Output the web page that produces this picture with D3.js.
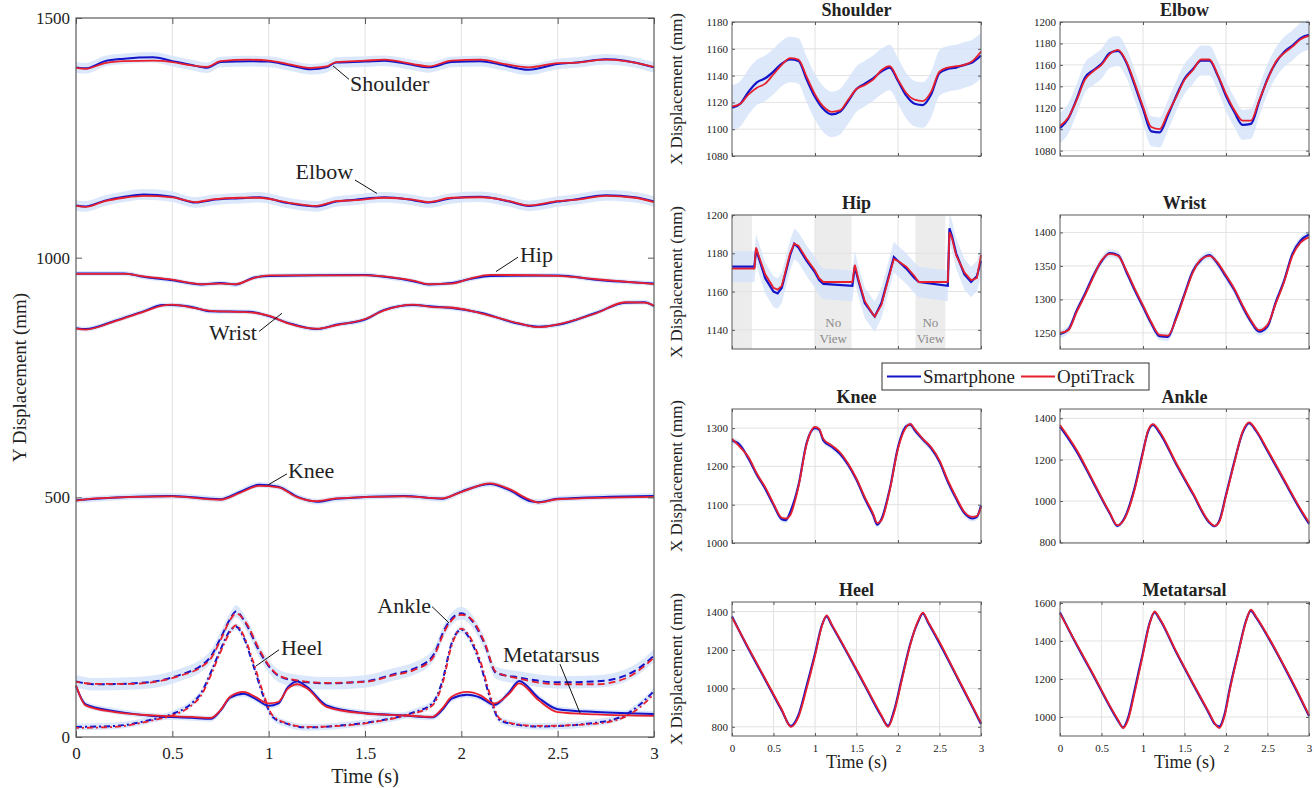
<!DOCTYPE html>
<html>
<head>
<meta charset="utf-8">
<script src="https://cdn.jsdelivr.net/npm/d3@7"></script>
<style>
  body { margin: 0; background: #fff; }
  svg { display: block; }
  text { font-family: "Liberation Serif", "Times New Roman", serif; fill: #222; }
</style>
</head>
<body>
<script>
// ---------- shared ticks ----------
const timeTicks = [0, 0.5, 1, 1.5, 2, 2.5, 3];
const leftYTicks = [0, 500, 1000, 1500];
const t10 = [0, 0.1, 0.2, 0.3, 0.4, 0.5, 0.6, 0.7, 0.8, 0.9, 1, 1.1, 1.2, 1.3, 1.4, 1.5, 1.6, 1.7, 1.8, 1.9, 2, 2.1, 2.2, 2.3, 2.4, 2.5, 2.6, 2.7, 2.8, 2.9, 3];

// ---------- left panel: Y displacement ----------
const yShoulderT = [0, 0.05, 0.15, 0.25, 0.4, 0.5, 0.6, 0.68, 0.75, 0.9, 1, 1.1, 1.22, 1.3, 1.35, 1.5, 1.6, 1.75, 1.83, 1.95, 2.1, 2.2, 2.35, 2.5, 2.6, 2.75, 2.85, 3];
const yShoulderOpti = [1396, 1394, 1406, 1410, 1411, 1408, 1401, 1398, 1410, 1413, 1411, 1404, 1396, 1399, 1408, 1411, 1413, 1404, 1399, 1411, 1413, 1406, 1397, 1406, 1407, 1413, 1410, 1398];
const yShoulderPhone = [1397, 1395, 1410, 1415, 1418, 1410, 1402, 1396, 1408, 1410, 1409, 1402, 1393, 1397, 1407, 1409, 1411, 1402, 1397, 1408, 1410, 1403, 1392, 1404, 1407, 1414, 1411, 1397];

const yElbowT = [0, 0.05, 0.15, 0.25, 0.35, 0.5, 0.62, 0.7, 0.85, 0.95, 1.1, 1.25, 1.35, 1.45, 1.6, 1.75, 1.83, 1.95, 2.1, 2.25, 2.35, 2.5, 2.6, 2.75, 2.9, 3];
const yElbowOpti = [1108, 1106, 1118, 1125, 1129, 1126, 1116, 1121, 1125, 1125, 1115, 1108, 1118, 1120, 1125, 1121, 1116, 1125, 1126, 1118, 1109, 1118, 1121, 1129, 1125, 1116];
const yElbowPhone = [1109, 1107, 1119, 1127, 1132, 1127, 1115, 1120, 1124, 1126, 1114, 1107, 1117, 1121, 1126, 1120, 1115, 1124, 1127, 1117, 1108, 1117, 1122, 1130, 1126, 1117];

const yHipT = [0, 0.25, 0.35, 0.5, 0.65, 0.75, 0.83, 0.92, 1, 1.5, 1.6, 1.75, 1.83, 1.95, 2.05, 2.15, 2.5, 2.7, 3];
const yHipOpti = [966, 966, 961, 954, 945, 946, 945, 957, 963, 963, 961, 952, 945, 946, 957, 964, 962, 955, 945];
const yHipPhone = [967, 967, 960, 953, 944, 947, 944, 958, 962, 964, 960, 951, 944, 947, 956, 962, 963, 954, 946];

const yWristT = [0, 0.05, 0.2, 0.35, 0.45, 0.5, 0.6, 0.7, 0.9, 1, 1.1, 1.25, 1.35, 1.5, 1.6, 1.75, 1.85, 1.95, 2.1, 2.3, 2.4, 2.5, 2.7, 2.85, 2.95, 3];
const yWristOpti = [852, 850, 867, 887, 900, 902, 896, 889, 886, 879, 863, 852, 859, 872, 890, 902, 897, 896, 884, 863, 855, 861, 884, 907, 906, 900];
const yWristPhone = [853, 851, 868, 888, 901, 901, 897, 888, 887, 878, 864, 851, 860, 871, 891, 901, 898, 895, 885, 862, 856, 860, 885, 906, 907, 899];

const yKneeT = [0, 0.1, 0.5, 0.75, 0.85, 0.95, 1.05, 1.15, 1.25, 1.35, 1.7, 1.9, 2, 2.15, 2.25, 2.35, 2.4, 2.5, 3];
const yKneeOpti = [493, 498, 502, 495, 509, 524, 521, 500, 492, 498, 502, 498, 511, 529, 517, 496, 489, 496, 501];
const yKneePhone = [494, 497, 503, 496, 511, 526, 522, 501, 491, 497, 503, 497, 512, 528, 515, 493, 490, 497, 503];

const yAnkleT = [0, 0.1, 0.3, 0.45, 0.55, 0.65, 0.7, 0.75, 0.8, 0.83, 0.88, 0.95, 1, 1.05, 1.15, 1.3, 1.5, 1.65, 1.75, 1.85, 1.92, 1.97, 2, 2.05, 2.12, 2.18, 2.3, 2.5, 2.7, 2.85, 2.95, 3];
const yAnkleOpti = [115, 111, 111, 118, 129, 146, 164, 202, 244, 258, 240, 184, 150, 129, 118, 113, 115, 129, 139, 164, 226, 251, 255, 247, 198, 136, 122, 110, 110, 122, 148, 166];
const yAnklePhone = [116, 110, 112, 119, 131, 149, 168, 206, 246, 262, 238, 180, 148, 128, 117, 112, 116, 131, 142, 168, 230, 254, 258, 245, 195, 134, 124, 114, 116, 128, 152, 170];

const yHeelT = [0, 0.2, 0.4, 0.5, 0.6, 0.65, 0.7, 0.75, 0.8, 0.83, 0.87, 0.92, 0.97, 1.02, 1.1, 1.2, 1.4, 1.6, 1.75, 1.85, 1.9, 1.95, 2, 2.05, 2.1, 2.15, 2.2, 2.3, 2.4, 2.7, 2.85, 2.95, 3];
const yHeelOpti = [19, 21, 35, 45, 66, 87, 129, 177, 219, 233, 212, 157, 94, 45, 28, 21, 24, 35, 49, 66, 108, 191, 226, 205, 157, 87, 38, 26, 23, 28, 42, 70, 90];
const yHeelPhone = [21, 23, 37, 48, 70, 92, 135, 182, 222, 230, 208, 150, 88, 42, 27, 20, 25, 36, 51, 70, 115, 196, 224, 200, 150, 80, 35, 25, 22, 30, 46, 76, 96];

const yMetaT = [0, 0.05, 0.2, 0.4, 0.6, 0.7, 0.75, 0.8, 0.87, 0.93, 1, 1.05, 1.1, 1.15, 1.2, 1.3, 1.5, 1.7, 1.85, 1.9, 1.95, 2.03, 2.1, 2.17, 2.25, 2.3, 2.4, 2.5, 2.7, 3];
const yMetaOpti = [108, 66, 52, 45, 42, 40, 56, 84, 94, 84, 70, 73, 101, 110, 101, 63, 49, 45, 42, 59, 84, 94, 87, 70, 91, 112, 77, 52, 47, 44];
const yMetaPhone = [106, 68, 54, 44, 40, 38, 55, 82, 90, 80, 65, 70, 104, 116, 104, 66, 50, 45, 41, 56, 80, 88, 82, 67, 94, 117, 82, 58, 52, 48];

// ---------- right panels: X displacement ----------
const xShoulderPhone = [1116, 1119, 1128, 1135, 1138, 1143, 1149, 1152, 1151, 1137, 1124, 1115, 1111, 1113, 1121, 1130, 1134, 1138, 1143, 1146, 1136, 1125, 1119, 1118, 1126, 1142, 1145, 1146, 1148, 1150, 1155];
const xShoulderOpti = [1117, 1119, 1126, 1131, 1134, 1141, 1148, 1153, 1152, 1139, 1126, 1117, 1113, 1114, 1122, 1130, 1133, 1137, 1144, 1147, 1137, 1127, 1122, 1121, 1128, 1143, 1146, 1147, 1148, 1151, 1158];

const xElbowPhone = [1101, 1110, 1128, 1148, 1155, 1161, 1171, 1173, 1162, 1141, 1119, 1098, 1097, 1113, 1131, 1147, 1156, 1164, 1164, 1150, 1131, 1116, 1104, 1105, 1126, 1147, 1162, 1172, 1178, 1185, 1188];
const xElbowOpti = [1103, 1111, 1127, 1146, 1154, 1160, 1170, 1174, 1163, 1143, 1121, 1102, 1100, 1115, 1130, 1146, 1155, 1165, 1165, 1151, 1133, 1118, 1108, 1108, 1127, 1146, 1163, 1171, 1177, 1184, 1187];

const xHipT = [0, 0.27, 0.29, 0.32, 0.4, 0.5, 0.55, 0.6, 0.7, 0.75, 0.8, 0.9, 1, 1.05, 1.1, 1.45, 1.48, 1.52, 1.6, 1.7, 1.72, 1.8, 1.9, 1.95, 2, 2.1, 2.2, 2.25, 2.6, 2.62, 2.65, 2.7, 2.8, 2.88, 2.95, 3];
const xHipPhone = [1173, 1173, 1182, 1178, 1167, 1160, 1159, 1162, 1179, 1185, 1183, 1176, 1170, 1166, 1164, 1163, 1173, 1166, 1154, 1148, 1147, 1154, 1170, 1178, 1176, 1172, 1167, 1165, 1163, 1193, 1189, 1180, 1169, 1165, 1168, 1176];
const xHipOpti = [1172, 1172, 1183, 1179, 1169, 1162, 1161, 1163, 1180, 1185, 1184, 1177, 1171, 1167, 1165, 1165, 1174, 1167, 1155, 1148, 1147, 1153, 1169, 1177, 1176, 1173, 1168, 1165, 1165, 1191, 1188, 1179, 1170, 1166, 1167, 1179];
const hipNoView = [[0, 0.24], [1.0, 1.44], [2.21, 2.57]];

const xWristPhone = [1248, 1255, 1283, 1308, 1335, 1357, 1369, 1366, 1341, 1314, 1289, 1264, 1245, 1244, 1273, 1308, 1342, 1359, 1366, 1353, 1334, 1314, 1289, 1267, 1252, 1260, 1296, 1328, 1368, 1388, 1397];
const xWristOpti = [1250, 1254, 1281, 1306, 1333, 1358, 1368, 1365, 1343, 1316, 1291, 1266, 1247, 1246, 1271, 1306, 1340, 1360, 1365, 1355, 1336, 1316, 1291, 1269, 1254, 1262, 1294, 1326, 1365, 1385, 1393];

const xKneeT = [0, 0.1, 0.2, 0.3, 0.4, 0.5, 0.6, 0.65, 0.7, 0.8, 0.9, 1, 1.05, 1.1, 1.2, 1.3, 1.4, 1.5, 1.6, 1.7, 1.75, 1.8, 1.9, 2, 2.1, 2.15, 2.2, 2.3, 2.4, 2.5, 2.6, 2.7, 2.8, 2.9, 2.95, 3];
const xKneePhone = [1268, 1255, 1220, 1178, 1142, 1100, 1062, 1060, 1080, 1150, 1262, 1300, 1296, 1268, 1252, 1233, 1204, 1165, 1116, 1073, 1048, 1062, 1140, 1250, 1305, 1309, 1295, 1270, 1247, 1212, 1160, 1116, 1078, 1064, 1068, 1098];
const xKneeOpti = [1272, 1250, 1224, 1181, 1146, 1103, 1066, 1064, 1072, 1146, 1259, 1303, 1298, 1272, 1255, 1237, 1207, 1168, 1120, 1077, 1052, 1059, 1137, 1246, 1303, 1311, 1298, 1272, 1250, 1216, 1164, 1120, 1081, 1068, 1070, 1094];

const xAnkleT = [0, 0.2, 0.4, 0.6, 0.69, 0.78, 0.9, 1, 1.06, 1.12, 1.2, 1.4, 1.6, 1.8, 1.86, 1.92, 2, 2.1, 2.2, 2.28, 2.36, 2.5, 2.7, 2.9, 3];
const xAnklePhone = [1360, 1240, 1090, 940, 880, 920, 1065, 1240, 1335, 1368, 1330, 1178, 1035, 895, 878, 905, 1030, 1190, 1330, 1376, 1340, 1242, 1098, 955, 890];
const xAnkleOpti = [1368, 1248, 1096, 944, 883, 915, 1056, 1232, 1340, 1372, 1336, 1184, 1040, 899, 880, 900, 1024, 1184, 1336, 1380, 1345, 1248, 1104, 960, 896];

const xHeelT = [0, 0.2, 0.4, 0.6, 0.71, 0.8, 0.9, 1, 1.08, 1.14, 1.2, 1.4, 1.6, 1.8, 1.88, 1.95, 2.05, 2.15, 2.24, 2.3, 2.36, 2.5, 2.7, 2.9, 3];
const xHeelPhone = [1375, 1205, 1045, 885, 803, 860, 1015, 1180, 1325, 1375, 1330, 1175, 1015, 855, 805, 880, 1060, 1235, 1345, 1390, 1345, 1235, 1068, 900, 815];
const xHeelOpti = [1370, 1210, 1050, 890, 800, 850, 1000, 1170, 1320, 1380, 1335, 1180, 1020, 860, 800, 870, 1050, 1230, 1350, 1395, 1350, 1242, 1073, 905, 820];

const xMetaT = [0, 0.2, 0.4, 0.6, 0.7, 0.76, 0.82, 0.9, 1, 1.08, 1.14, 1.2, 1.4, 1.6, 1.8, 1.86, 1.92, 1.98, 2.05, 2.15, 2.24, 2.3, 2.36, 2.5, 2.7, 2.9, 3];
const xMetaPhone = [1550, 1380, 1220, 1055, 980, 945, 995, 1145, 1340, 1495, 1550, 1515, 1340, 1175, 1015, 965, 950, 1010, 1160, 1345, 1505, 1560, 1525, 1425, 1265, 1095, 1005];
const xMetaOpti = [1545, 1385, 1225, 1060, 985, 942, 985, 1130, 1330, 1490, 1555, 1520, 1345, 1180, 1020, 970, 942, 1000, 1150, 1340, 1500, 1565, 1530, 1430, 1270, 1100, 1010];

// ---------- look ----------
const BLUE = '#1414c8';
const RED = '#e8202e';
const BAND = '#d5e3fa';
const FRAME = '#5a5a5a';
const GRID = '#e2e2e2';
const SERIF = '"Liberation Serif", "Times New Roman", serif';
const fmt = d => String(d);

const svg = d3.select('body').append('svg')
  .attr('width', 1314)
  .attr('height', 788);

// ================= left panel =================
const L = { left: 76, right: 654, top: 18, bottom: 737 };
const lx = d3.scaleLinear().domain([0, 3]).range([L.left, L.right]);
const ly = d3.scaleLinear().domain([0, 1500]).range([L.bottom, L.top]);

const leftSeries = [
  { t: yShoulderT, phone: yShoulderPhone, opti: yShoulderOpti, sd: 11, dash: null },
  { t: yElbowT, phone: yElbowPhone, opti: yElbowOpti, sd: 11, dash: null },
  { t: yHipT, phone: yHipPhone, opti: yHipOpti, sd: 5, dash: null },
  { t: yWristT, phone: yWristPhone, opti: yWristOpti, sd: 5, dash: null },
  { t: yKneeT, phone: yKneePhone, opti: yKneeOpti, sd: 6, dash: null },
  { t: yAnkleT, phone: yAnklePhone, opti: yAnkleOpti, sd: 13, dash: '7,4' },
  { t: yHeelT, phone: yHeelPhone, opti: yHeelOpti, sd: 7, dash: '6,3,2,3' },
  { t: yMetaT, phone: yMetaPhone, opti: yMetaOpti, sd: 6, dash: null },
];

const lg = svg.append('g');

// vertical grid
lg.selectAll('.vgrid')
  .data(timeTicks.slice(1, -1))
  .enter().append('line')
  .attr('x1', d => lx(d)).attr('x2', d => lx(d))
  .attr('y1', L.top).attr('y2', L.bottom)
  .attr('stroke', GRID).attr('stroke-width', 1);

// bands first, then blue, then red
leftSeries.forEach(s => {
  const band = d3.area()
    .x((d, i) => lx(s.t[i]))
    .y0(d => ly(d - s.sd))
    .y1(d => ly(d + s.sd))
    .curve(d3.curveMonotoneX);
  lg.append('path').datum(s.phone)
    .attr('d', band).attr('fill', BAND).attr('opacity', 0.85);
});
leftSeries.forEach(s => {
  const line = d3.line().x((d, i) => lx(s.t[i])).y(d => ly(d)).curve(d3.curveMonotoneX);
  lg.append('path').datum(s.phone)
    .attr('d', line).attr('fill', 'none').attr('stroke', BLUE)
    .attr('stroke-width', 2).attr('stroke-dasharray', s.dash);
});
leftSeries.forEach(s => {
  const line = d3.line().x((d, i) => lx(s.t[i])).y(d => ly(d)).curve(d3.curveMonotoneX);
  lg.append('path').datum(s.opti)
    .attr('d', line).attr('fill', 'none').attr('stroke', RED)
    .attr('stroke-width', 1.8).attr('stroke-dasharray', s.dash)
    .attr('stroke-dashoffset', s.dash ? 3 : null);
});

// axes (ticks point inward, like matlab)
const lAxisB = lg.append('g').attr('transform', `translate(0,${L.bottom})`)
  .call(d3.axisBottom(lx).tickValues(timeTicks).tickFormat(fmt).tickSize(-6).tickPadding(10));
const lAxisL = lg.append('g').attr('transform', `translate(${L.left},0)`)
  .call(d3.axisLeft(ly).tickValues(leftYTicks).tickFormat(fmt).tickSize(-6).tickPadding(6));
lg.append('g').attr('transform', `translate(0,${L.top})`)
  .call(d3.axisTop(lx).tickValues(timeTicks).tickFormat('').tickSize(-6));
lg.append('g').attr('transform', `translate(${L.right},0)`)
  .call(d3.axisRight(ly).tickValues(leftYTicks).tickFormat('').tickSize(-6));
lg.selectAll('.domain').remove();
lg.selectAll('.tick line').attr('stroke', FRAME);
[lAxisB, lAxisL].forEach(a => a.attr('font-family', SERIF).attr('font-size', 17)
  .selectAll('text').attr('fill', '#222'));

lg.append('rect')
  .attr('x', L.left).attr('y', L.top)
  .attr('width', L.right - L.left).attr('height', L.bottom - L.top)
  .attr('fill', 'none').attr('stroke', FRAME).attr('stroke-width', 1.2);

lg.append('text')
  .attr('x', (L.left + L.right) / 2).attr('y', 783)
  .attr('text-anchor', 'middle').style('font-size', '20px')
  .text('Time (s)');
lg.append('text')
  .attr('transform', `translate(26,${(L.top + L.bottom) / 2}) rotate(-90)`)
  .attr('text-anchor', 'middle').style('font-size', '19px')
  .text('Y Displacement (mm)');

// joint labels with leader lines (data coordinates)
const leftNotes = [
  { label: 'Shoulder', a: [1.334, 1400], b: [1.417, 1372], tx: 1.422, ty: 1347, anchor: 'start' },
  { label: 'Elbow', a: [1.448, 1162], b: [1.562, 1134], tx: 1.438, ty: 1164, anchor: 'end' },
  { label: 'Hip', a: [2.294, 1001], b: [2.18, 971], tx: 2.304, ty: 992, anchor: 'start' },
  { label: 'Wrist', a: [0.950, 846], b: [1.069, 884], tx: 0.939, ty: 829, anchor: 'end' },
  { label: 'Knee', a: [1.095, 549], b: [0.997, 526], tx: 1.100, ty: 541, anchor: 'start' },
  { label: 'Heel', a: [1.054, 182], b: [0.934, 148], tx: 1.064, ty: 171, anchor: 'start' },
  { label: 'Ankle', a: [1.848, 272], b: [1.936, 238], tx: 1.843, ty: 259, anchor: 'end' },
  { label: 'Metatarsus', a: [2.512, 152], b: [2.616, 50], tx: 2.216, ty: 157, anchor: 'start' },
];
leftNotes.forEach(n => {
  lg.append('line')
    .attr('x1', lx(n.a[0])).attr('y1', ly(n.a[1]))
    .attr('x2', lx(n.b[0])).attr('y2', ly(n.b[1]))
    .attr('stroke', '#111').attr('stroke-width', 1);
  lg.append('text')
    .attr('x', lx(n.tx)).attr('y', ly(n.ty))
    .attr('text-anchor', n.anchor).style('font-size', '22px')
    .text(n.label);
});

// ================= right panels =================
const colLeft = [732, 1060];
const rowTop = [22, 215, 409, 602];
const PW = 249, PH = 134;

const panels = [
  { title: 'Shoulder', col: 0, row: 0, t: t10, phone: xShoulderPhone, opti: xShoulderOpti, sd: 17, domain: [1080, 1180], ticks: [1080, 1100, 1120, 1140, 1160, 1180] },
  { title: 'Elbow', col: 1, row: 0, t: t10, phone: xElbowPhone, opti: xElbowOpti, sd: 14, domain: [1075, 1200], ticks: [1080, 1100, 1120, 1140, 1160, 1180, 1200] },
  { title: 'Hip', col: 0, row: 1, t: xHipT, phone: xHipPhone, opti: xHipOpti, sd: 8, domain: [1130, 1200], ticks: [1140, 1160, 1180, 1200], linear: true, noView: hipNoView },
  { title: 'Wrist', col: 1, row: 1, t: t10, phone: xWristPhone, opti: xWristOpti, sd: 6, domain: [1226, 1426], ticks: [1250, 1300, 1350, 1400] },
  { title: 'Knee', col: 0, row: 2, t: xKneeT, phone: xKneePhone, opti: xKneeOpti, sd: 8, domain: [1000, 1350], ticks: [1000, 1100, 1200, 1300] },
  { title: 'Ankle', col: 1, row: 2, t: xAnkleT, phone: xAnklePhone, opti: xAnkleOpti, sd: 9, domain: [797, 1445], ticks: [800, 1000, 1200, 1400] },
  { title: 'Heel', col: 0, row: 3, t: xHeelT, phone: xHeelPhone, opti: xHeelOpti, sd: 10, domain: [752, 1450], ticks: [800, 1000, 1200, 1400] },
  { title: 'Metatarsal', col: 1, row: 3, t: xMetaT, phone: xMetaPhone, opti: xMetaOpti, sd: 10, domain: [900, 1605], ticks: [1000, 1200, 1400, 1600] },
];

panels.forEach(p => {
  const left = colLeft[p.col], top = rowTop[p.row];
  const bottomRow = p.row === 3;
  const x = d3.scaleLinear().domain([0, 3]).range([left, left + PW]);
  const y = d3.scaleLinear().domain(p.domain).range([top + PH, top]);
  const g = svg.append('g');
  const xt = bottomRow ? timeTicks : [0, 1, 2, 3];

  if (p.noView) {
    g.selectAll('.nv').data(p.noView).enter().append('rect')
      .attr('x', d => x(d[0])).attr('width', d => x(d[1]) - x(d[0]))
      .attr('y', top).attr('height', PH)
      .attr('fill', '#ececec');
  }

  // grid
  g.selectAll('.hg').data(p.ticks).enter().append('line')
    .attr('x1', left).attr('x2', left + PW)
    .attr('y1', d => y(d)).attr('y2', d => y(d))
    .attr('stroke', GRID);
  g.selectAll('.vg').data(xt.filter(d => d > 0 && d < 3)).enter().append('line')
    .attr('x1', d => x(d)).attr('x2', d => x(d))
    .attr('y1', top).attr('y2', top + PH)
    .attr('stroke', GRID);

  if (p.noView) {
    p.noView.slice(1).forEach(r => {
      const cx = x((r[0] + r[1]) / 2);
      g.append('text').attr('x', cx).attr('y', top + PH - 22)
        .attr('text-anchor', 'middle').style('font-size', '13px').style('fill', '#8a8a8a')
        .text('No');
      g.append('text').attr('x', cx).attr('y', top + PH - 6)
        .attr('text-anchor', 'middle').style('font-size', '13px').style('fill', '#8a8a8a')
        .text('View');
    });
  }

  const curve = p.linear ? d3.curveLinear : d3.curveMonotoneX;
  const band = d3.area()
    .x((d, i) => x(p.t[i]))
    .y0(d => y(d - p.sd)).y1(d => y(d + p.sd))
    .curve(curve);
  g.append('path').datum(p.phone).attr('d', band).attr('fill', BAND).attr('opacity', 0.8);

  const line = d3.line().x((d, i) => x(p.t[i])).y(d => y(d)).curve(curve);
  g.append('path').datum(p.phone).attr('d', line)
    .attr('fill', 'none').attr('stroke', BLUE).attr('stroke-width', 2.2);
  g.append('path').datum(p.opti).attr('d', line)
    .attr('fill', 'none').attr('stroke', RED).attr('stroke-width', 1.8);

  // axes
  const ax = g.append('g').attr('transform', `translate(${left},0)`)
    .call(d3.axisLeft(y).tickValues(p.ticks).tickFormat(fmt).tickSize(-3).tickPadding(4));
  const bx = g.append('g').attr('transform', `translate(0,${top + PH})`)
    .call(d3.axisBottom(x).tickValues(xt).tickSize(-3).tickPadding(8)
      .tickFormat(bottomRow ? fmt : ''));
  g.append('g').attr('transform', `translate(0,${top})`)
    .call(d3.axisTop(x).tickValues(xt).tickFormat('').tickSize(-3));
  g.append('g').attr('transform', `translate(${left + PW},0)`)
    .call(d3.axisRight(y).tickValues(p.ticks).tickFormat('').tickSize(-3));
  g.selectAll('.domain').remove();
  g.selectAll('.tick line').attr('stroke', FRAME);
  [ax, bx].forEach(a => a.attr('font-family', SERIF).attr('font-size', 11)
    .selectAll('text').attr('fill', '#333'));

  g.append('rect').attr('x', left).attr('y', top).attr('width', PW).attr('height', PH)
    .attr('fill', 'none').attr('stroke', FRAME).attr('stroke-width', 1);

  g.append('text').attr('x', left + PW / 2).attr('y', top - 6)
    .attr('text-anchor', 'middle').style('font-size', '18px').style('font-weight', 'bold')
    .text(p.title);

  if (p.col === 0) {
    g.append('text')
      .attr('transform', `translate(682,${top + PH / 2}) rotate(-90)`)
      .attr('text-anchor', 'middle').style('font-size', '17px')
      .text('X Displacement (mm)');
  }
  if (bottomRow) {
    g.append('text').attr('x', left + PW / 2).attr('y', 768)
      .attr('text-anchor', 'middle').style('font-size', '18px')
      .text('Time (s)');
  }
});

// legend
const leg = svg.append('g');
leg.append('rect').attr('x', 882).attr('y', 363).attr('width', 267).attr('height', 27)
  .attr('fill', '#fff').attr('stroke', '#333').attr('stroke-width', 1);
const legItems = [
  { name: 'Smartphone', color: BLUE, x: 887 },
  { name: 'OptiTrack', color: RED, x: 1021 },
];
legItems.forEach(it => {
  leg.append('line').attr('x1', it.x).attr('x2', it.x + 34)
    .attr('y1', 376.5).attr('y2', 376.5)
    .attr('stroke', it.color).attr('stroke-width', 2.2);
  leg.append('text').attr('x', it.x + 36).attr('y', 383)
    .style('font-size', '19px').text(it.name);
});
</script>
</body>
</html>
